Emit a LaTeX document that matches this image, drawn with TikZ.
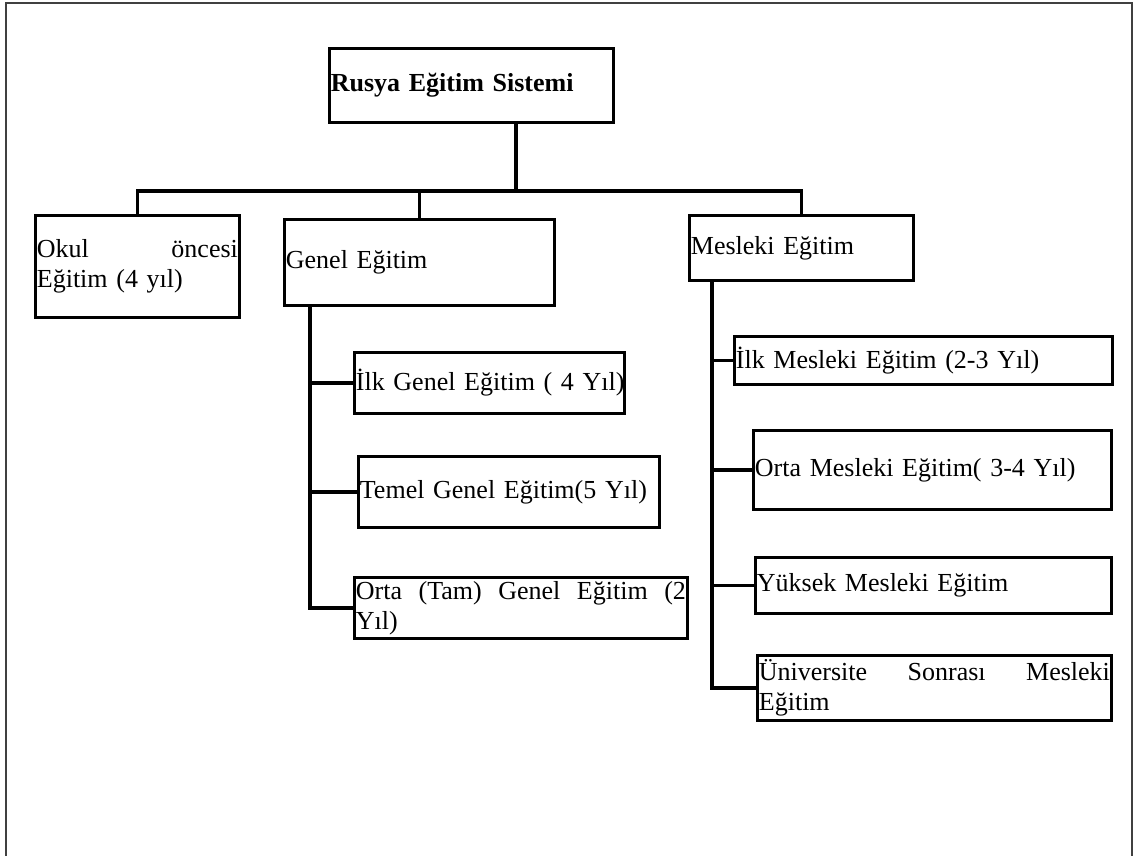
\documentclass[tikz,border=0pt]{standalone}
\usepackage{fontspec}
\setmainfont{Liberation Serif}
\begin{document}
\begin{tikzpicture}[x=1pt,y=-1pt,
  box/.style={draw=black,line width=2.8pt,anchor=north west,inner xsep=1.5pt,inner ysep=0pt,
    align=left,font=\fontsize{26}{30}\selectfont},
  conn/.style={draw=black,line width=3.2pt},
  frame/.style={draw=black!75,line width=1.6pt}]
\useasboundingbox (0,0) rectangle (1137,856);
\draw[frame] (6,856) -- (6,3) -- (1132,3) -- (1132,856);
% boxes: (x,y) top-left, width, height
\node[box,text width=281pt,minimum height=74pt,font=\fontsize{26}{30}\selectfont\bfseries] (root) at (328,47) {\mbox{Rusya Eğitim Sistemi}};
\node[box,text width=201pt,minimum height=102pt] (okul) at (34,214) {Okul\hfill öncesi\\Eğitim (4 yıl)};
\node[box,text width=267pt,minimum height=86pt] (genel) at (283,218) {\mbox{Genel Eğitim}};
\node[box,text width=221pt,minimum height=65pt] (mesleki) at (688,214) {\mbox{Mesleki Eğitim}};
\node[box,text width=267pt,minimum height=61pt] (ilkg) at (353,351) {\mbox{İlk Genel Eğitim ( 4 Yıl)}};
\node[box,text width=298pt,minimum height=71pt] (temel) at (357,455) {\mbox{Temel Genel Eğitim(5 Yıl)}};
\node[box,text width=330pt,minimum height=61pt] (ortag) at (353,576) {Orta\hfill(Tam)\hfill Genel\hfill Eğitim\hfill(2\\Yıl)};
\node[box,text width=375pt,minimum height=48pt] (ilkm) at (733,335) {\mbox{İlk Mesleki Eğitim (2-3 Yıl)}};
\node[box,text width=355pt,minimum height=79pt] (ortam) at (752,429) {\mbox{Orta Mesleki Eğitim( 3-4 Yıl)}};
\node[box,text width=353pt,minimum height=56pt] (yuksek) at (754,556) {\mbox{Yüksek Mesleki Eğitim}};
\node[box,text width=351pt,minimum height=65pt] (univ) at (756,654) {Üniversite\hfill Sonrası\hfill Mesleki\\Eğitim};
% connectors
\coordinate (j) at (516,191);
\coordinate (gsp) at (310,0);
\coordinate (msp) at (712,0);
\draw[conn] (root.south -| j) -- (j);
\draw[conn] (okul.north) |- (j) -| (mesleki.north);
\draw[conn] (genel.north) -- (genel.north |- j);
\draw[conn] (genel.south -| gsp) |- (ilkg.west);
\draw[conn] (genel.south -| gsp) |- (temel.west);
\draw[conn] (genel.south -| gsp) |- (ortag.west);
\draw[conn] (mesleki.south -| msp) |- (ilkm.west);
\draw[conn] (mesleki.south -| msp) |- (ortam.west);
\draw[conn] (mesleki.south -| msp) |- (yuksek.west);
\draw[conn] (mesleki.south -| msp) |- (univ.west);
\end{tikzpicture}
\end{document}
